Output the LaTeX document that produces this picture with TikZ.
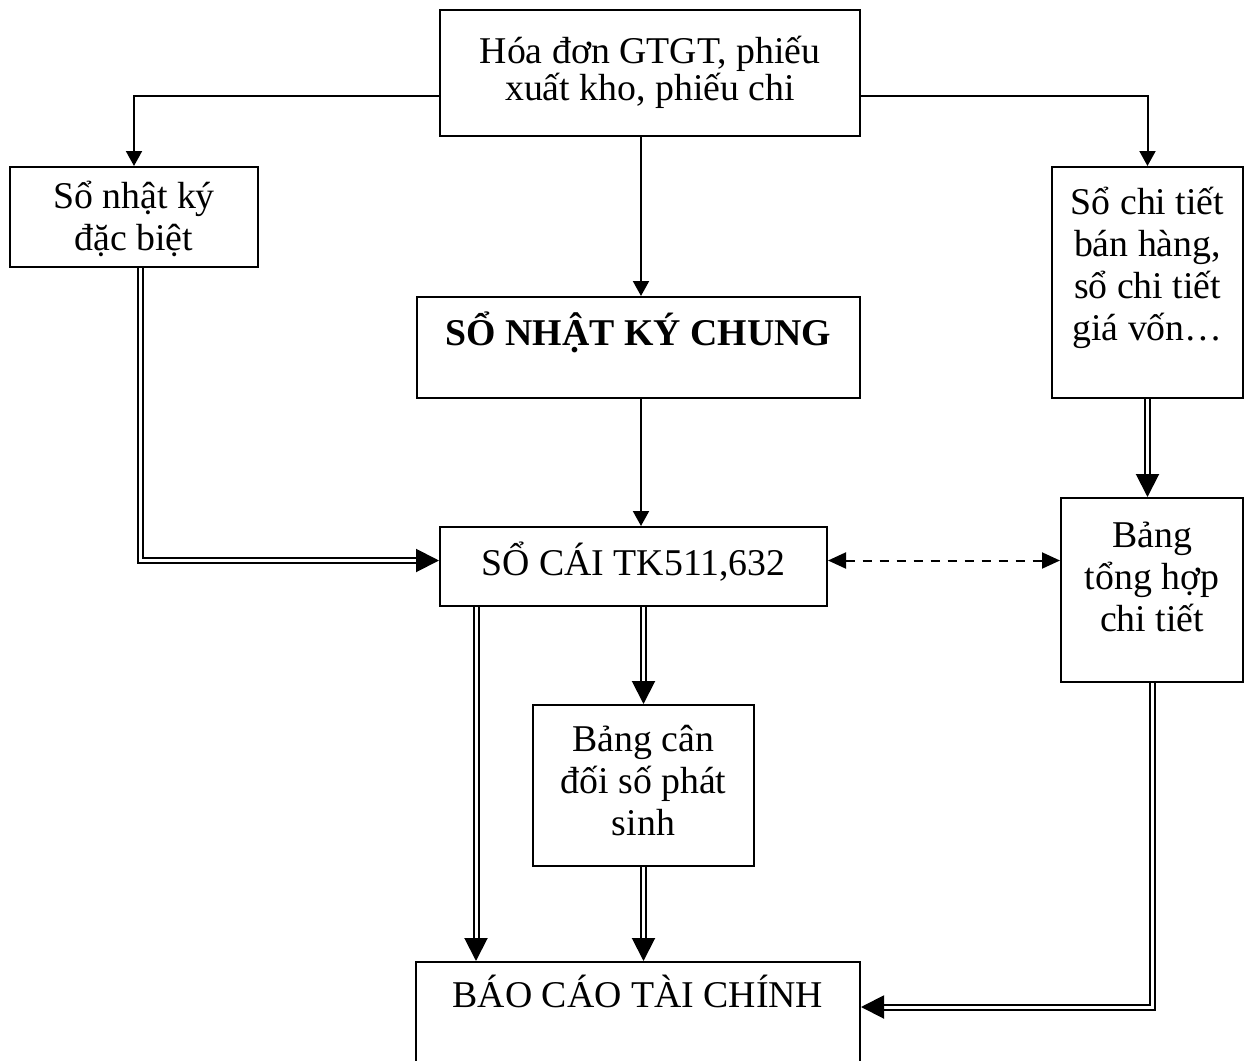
\documentclass[tikz,border=0pt]{standalone}
\usepackage{fontspec}
\setmainfont{Liberation Serif}
\usetikzlibrary{arrows.meta}

\begin{document}
\begin{tikzpicture}[x=0.5pt, y=-0.5pt,
  box/.style={draw, line width=1pt, rectangle, inner sep=0pt},
  txt/.style={align=center, anchor=base, inner sep=0pt,
              font=\fontsize{18.9}{21}\selectfont},
  arr/.style={line width=1pt, -{Triangle[length=7.5pt, width=8pt]}},
  dbl/.style={double, double distance=1.5pt, line width=1pt,
              -{Triangle[length=11.5pt, width=11.5pt]}},
  dsh/.style={line width=1pt, dash pattern=on 4.5pt off 4pt,
              {Triangle[length=9pt, width=8pt]}-{Triangle[length=9pt, width=8pt]}}]

\clip (0,0) rectangle (1250,1061);

% boxes
\node[box, minimum width=210pt, minimum height=63pt]     (top)   at (650,73)     {};
\node[box, minimum width=124pt, minimum height=50pt]     (nkdb)  at (134,217)    {};
\node[box, minimum width=95.5pt, minimum height=115.5pt] (sct)   at (1147.5,282.5) {};
\node[box, minimum width=221.5pt, minimum height=50.5pt] (nkc)   at (638.5,347.5) {};
\node[box, minimum width=193.5pt, minimum height=39.5pt] (socai) at (633.5,566.5) {};
\node[box, minimum width=91pt, minimum height=92pt]      (bth)   at (1152,590)   {};
\node[box, minimum width=110.5pt, minimum height=80.5pt] (bcd)   at (643.5,785.5) {};
\node[box, minimum width=222pt, minimum height=54pt]     (bctc)  at (638,1016)   {};

% texts (anchored at the baseline of the last line)
\node[txt, font=\fontsize{18.9}{18.5}\selectfont] (t-top) at (650,100)
  {Hóa đơn GTGT, phiếu\\xuất kho, phiếu chi};
\node[txt] (t-nkdb)  at (134,250)    {Sổ nhật ký\\đặc biệt};
\node[txt] (t-sct)   at (1147.5,340) {Sổ chi tiết\\bán hàng,\\sổ chi tiết\\giá vốn…};
\node[txt, font=\fontsize{18.9}{21}\selectfont\bfseries] (t-nkc) at (638.5,345) {SỔ NHẬT KÝ CHUNG};
\node[txt] (t-socai) at (633.5,575)  {SỔ CÁI TK511,632};
\node[txt] (t-bth)   at (1152,631)   {Bảng\\tổng hợp\\chi tiết};
\node[txt] (t-bcd)   at (643.5,835)  {Bảng cân\\đối số phát\\sinh};
\node[txt] (t-bctc)  at (638,1007)   {BÁO CÁO TÀI CHÍNH};

% helper columns for the vertical connectors
\coordinate (spine) at (641,0);
\coordinate (dl)    at (140,0);
\coordinate (c1)    at (476,0);

% single arrows from the source documents
\draw[arr] ([yshift=-11.5pt]top.west) -| (nkdb.north);
\draw[arr] ([yshift=-11.5pt]top.east) -| (sct.north);
\draw[arr] (top.south -| spine) -- (nkc.north -| spine);
\draw[arr] (nkc.south -| spine) -- (socai.north -| spine);

% double arrows
\draw[dbl] (nkdb.south -| dl) |- ([yshift=3pt]socai.west);
\draw[dbl] (sct.south) -- (sct.south |- bth.north);
\draw[dbl] (socai.south -| c1) -- (bctc.north -| c1);
\draw[dbl] (socai.south -| bcd.north) -- (bcd.north);
\draw[dbl] (bcd.south) -- (bcd.south |- bctc.north);
\draw[dbl] (bth.south) |- ([yshift=4.5pt]bctc.east);

% reconciliation
\draw[dsh] ([yshift=3pt]socai.east) -- ([yshift=3pt]socai.east -| bth.west);

\end{tikzpicture}
\end{document}
